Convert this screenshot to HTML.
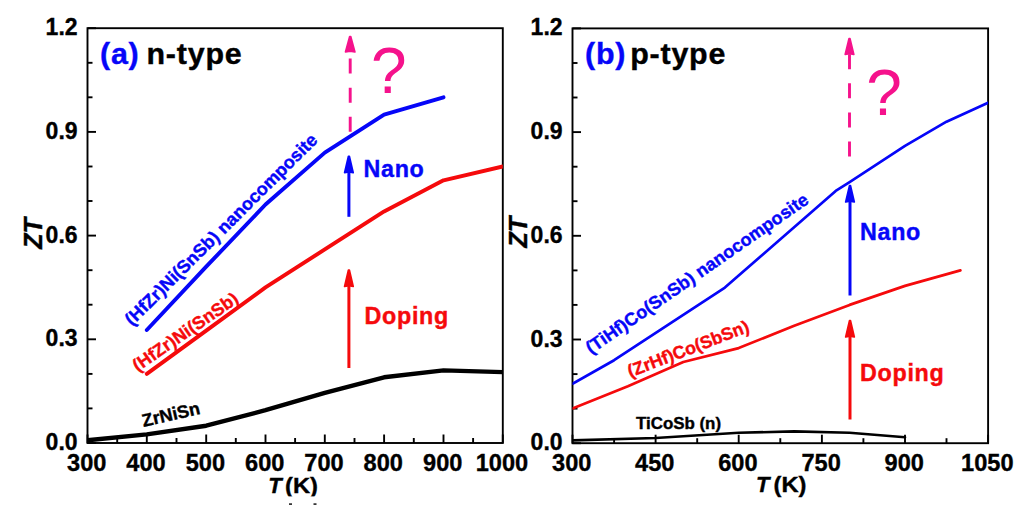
<!DOCTYPE html>
<html><head><meta charset="utf-8"><title>ZT chart</title>
<style>
html,body{margin:0;padding:0;background:#fff;}
body{width:1024px;height:509px;overflow:hidden;}
svg{display:block;}
text{font-family:"Liberation Sans",sans-serif;font-weight:bold;}
.b{stroke-width:0.4px;}
.q{font-weight:normal;}
.tick{font-size:23.6px;fill:#000;stroke:#000;stroke-width:0.35px;}
.ax{stroke:#000;stroke-width:1.9;fill:none;}
</style></head><body>
<svg width="1024" height="509" viewBox="0 0 1024 509">
<rect width="1024" height="509" fill="#fff"/>

<defs><clipPath id="cl"><rect x="87.5" y="28.2" width="415.3" height="414.8"/></clipPath><clipPath id="cr"><rect x="572.5" y="28.4" width="415.6" height="414.8"/></clipPath></defs>
<rect class="ax" x="87.5" y="28.2" width="415.3" height="414.8"/>
<line class="ax" x1="87.5" y1="443.0" x2="96.0" y2="443.0"/>
<text transform="translate(77.6,450.0) scale(1.0,1)" text-anchor="end" class="tick" style="font-size:23px;" >0.0</text>
<line class="ax" x1="87.5" y1="408.4" x2="92.5" y2="408.4"/>
<line class="ax" x1="87.5" y1="373.9" x2="92.5" y2="373.9"/>
<line class="ax" x1="87.5" y1="339.3" x2="96.0" y2="339.3"/>
<text transform="translate(77.6,346.3) scale(1.0,1)" text-anchor="end" class="tick" style="font-size:23px;" >0.3</text>
<line class="ax" x1="87.5" y1="304.7" x2="92.5" y2="304.7"/>
<line class="ax" x1="87.5" y1="270.2" x2="92.5" y2="270.2"/>
<line class="ax" x1="87.5" y1="235.6" x2="96.0" y2="235.6"/>
<text transform="translate(77.6,242.6) scale(1.0,1)" text-anchor="end" class="tick" style="font-size:23px;" >0.6</text>
<line class="ax" x1="87.5" y1="201.0" x2="92.5" y2="201.0"/>
<line class="ax" x1="87.5" y1="166.5" x2="92.5" y2="166.5"/>
<line class="ax" x1="87.5" y1="131.9" x2="96.0" y2="131.9"/>
<text transform="translate(77.6,138.9) scale(1.0,1)" text-anchor="end" class="tick" style="font-size:23px;" >0.9</text>
<line class="ax" x1="87.5" y1="97.3" x2="92.5" y2="97.3"/>
<line class="ax" x1="87.5" y1="62.8" x2="92.5" y2="62.8"/>
<line class="ax" x1="87.5" y1="28.2" x2="96.0" y2="28.2"/>
<text transform="translate(77.6,35.2) scale(1.0,1)" text-anchor="end" class="tick" style="font-size:23px;" >1.2</text>
<line class="ax" x1="87.5" y1="443.0" x2="87.5" y2="434.5"/>
<line class="ax" x1="146.8" y1="443.0" x2="146.8" y2="434.5"/>
<line class="ax" x1="206.2" y1="443.0" x2="206.2" y2="434.5"/>
<line class="ax" x1="265.5" y1="443.0" x2="265.5" y2="434.5"/>
<line class="ax" x1="324.8" y1="443.0" x2="324.8" y2="434.5"/>
<line class="ax" x1="384.1" y1="443.0" x2="384.1" y2="434.5"/>
<line class="ax" x1="443.5" y1="443.0" x2="443.5" y2="434.5"/>
<line class="ax" x1="502.8" y1="443.0" x2="502.8" y2="434.5"/>
<line class="ax" x1="117.2" y1="443.0" x2="117.2" y2="438.0"/>
<line class="ax" x1="176.5" y1="443.0" x2="176.5" y2="438.0"/>
<line class="ax" x1="235.8" y1="443.0" x2="235.8" y2="438.0"/>
<line class="ax" x1="295.1" y1="443.0" x2="295.1" y2="438.0"/>
<line class="ax" x1="354.5" y1="443.0" x2="354.5" y2="438.0"/>
<line class="ax" x1="413.8" y1="443.0" x2="413.8" y2="438.0"/>
<line class="ax" x1="473.1" y1="443.0" x2="473.1" y2="438.0"/>
<text transform="translate(86.7,471.0) scale(1.0,1)" text-anchor="middle" class="tick" style="" >300</text>
<text transform="translate(146.0,471.0) scale(1.0,1)" text-anchor="middle" class="tick" style="" >400</text>
<text transform="translate(205.4,471.0) scale(1.0,1)" text-anchor="middle" class="tick" style="" >500</text>
<text transform="translate(264.7,471.0) scale(1.0,1)" text-anchor="middle" class="tick" style="" >600</text>
<text transform="translate(324.0,471.0) scale(1.0,1)" text-anchor="middle" class="tick" style="" >700</text>
<text transform="translate(383.3,471.0) scale(1.0,1)" text-anchor="middle" class="tick" style="" >800</text>
<text transform="translate(442.7,471.0) scale(1.0,1)" text-anchor="middle" class="tick" style="" >900</text>
<text transform="translate(502.0,471.0) scale(1.0,1)" text-anchor="middle" class="tick" style="" >1000</text>
<polyline clip-path="url(#cl)" points="87.5,440.2 146.8,434.4 206.2,425.7 265.5,410.2 324.8,392.9 384.1,377.3 443.5,370.4 502.8,372.1" fill="none" stroke="#000" stroke-width="4.4" stroke-linejoin="round" stroke-linecap="round"/>
<polyline clip-path="url(#cl)" points="146.8,373.9 206.2,330.7 265.5,287.4 324.8,249.4 384.1,211.4 443.5,180.3 502.8,166.5" fill="none" stroke="#f50a0c" stroke-width="3.9" stroke-linejoin="round" stroke-linecap="round"/>
<polyline clip-path="url(#cl)" points="146.8,330.0 206.2,266.7 265.5,204.5 324.8,152.6 384.1,114.6 443.5,97.3" fill="none" stroke="#0606f8" stroke-width="3.9" stroke-linejoin="round" stroke-linecap="round"/>
<line x1="348.9" y1="368" x2="348.9" y2="284.5" stroke="#f50a0c" stroke-width="3.0"/>
<path d="M348.4,270.2 L349.4,270.2 L353.2,286.5 L348.9,285.7 L344.59999999999997,286.5 Z" fill="#f50a0c" stroke="#f50a0c" stroke-width="1.7" stroke-linejoin="round"/>
<line x1="348.9" y1="216.8" x2="348.9" y2="170.7" stroke="#0606f8" stroke-width="3.0"/>
<path d="M348.4,156.39999999999998 L349.4,156.39999999999998 L353.2,172.7 L348.9,171.89999999999998 L344.59999999999997,172.7 Z" fill="#0606f8" stroke="#0606f8" stroke-width="1.7" stroke-linejoin="round"/>
<line x1="350.2" y1="131.8" x2="350.2" y2="49.9" stroke="#f5128c" stroke-width="2.9" stroke-dasharray="15 14.15"/>
<path d="M349.7,36.6 L350.7,36.6 L354.9,51.9 L350.2,51.1 L345.5,51.9 Z" fill="#f5128c" stroke="#f5128c" stroke-width="1.7" stroke-linejoin="round"/>
<text transform="translate(363.5,176.8) scale(1.0,1)" text-anchor="start" class="" style="font-size:23.3px;fill:#0606f8;stroke:#0606f8;stroke-width:0.4px;" letter-spacing="0.7">Nano</text>
<text transform="translate(364.5,324.0) scale(1.0,1)" text-anchor="start" class="" style="font-size:23.3px;fill:#f50a0c;stroke:#f50a0c;stroke-width:0.4px;" letter-spacing="0.7">Doping</text>
<text transform="translate(371.0,92.7) scale(1.0,1)" text-anchor="start" class="q" style="font-size:64px;fill:#f5128c;" >?</text>
<text transform="translate(100,63.7) scale(1.0,1)" style="font-size:30.4px;letter-spacing:0.8px"><tspan fill="#0606f8" stroke="#0606f8" stroke-width="0.4">(a)</tspan><tspan fill="#000" stroke="#000" stroke-width="0.4" dx="-2.3"> n-type</tspan></text>
<text transform="translate(143.5,427.0) rotate(-13) scale(1.0,1)" text-anchor="start" class="" style="font-size:18px;fill:#000;stroke:#000;stroke-width:0.4px;" >ZrNiSn</text>
<text transform="translate(132.0,326.5) rotate(-44.8) scale(1.0,1)" text-anchor="start" class="" style="font-size:18.0px;fill:#0606f8;stroke:#0606f8;stroke-width:0.4px;" >(HfZr)Ni(SnSb) nanocomposite</text>
<text transform="translate(137.7,372.2) rotate(-34.7) scale(1.0,1)" text-anchor="start" class="" style="font-size:17.9px;fill:#f50a0c;stroke:#f50a0c;stroke-width:0.4px;" >(HfZr)Ni(SnSb)</text>
<text transform="translate(41.5,249) rotate(-90) scale(1.0,1)" style="font-size:25.4px;font-style:italic;stroke:#000;stroke-width:0.4px" fill="#000">ZT</text>
<text transform="translate(268.3,493.3) scale(0.99,1)" style="font-size:22.2px;font-style:italic;stroke:#000;stroke-width:0.4px" fill="#000">T</text>
<text transform="translate(285.1,493.3) scale(1.04,1)" style="font-size:22.8px;stroke:#000;stroke-width:0.4px" fill="#000">(K)</text>
<rect x="280" y="496.4" width="45" height="6.5" fill="#fff"/>
<rect x="289" y="503.3" width="3" height="1.6" fill="#222"/><rect x="313.5" y="503.3" width="3" height="1.6" fill="#222"/>
<rect class="ax" x="572.5" y="28.4" width="415.6" height="414.8"/>
<line class="ax" x1="572.5" y1="443.2" x2="581.0" y2="443.2"/>
<text transform="translate(562.6,450.2) scale(1.0,1)" text-anchor="end" class="tick" style="font-size:23px;" >0.0</text>
<line class="ax" x1="572.5" y1="408.6" x2="577.5" y2="408.6"/>
<line class="ax" x1="572.5" y1="374.1" x2="577.5" y2="374.1"/>
<line class="ax" x1="572.5" y1="339.5" x2="581.0" y2="339.5"/>
<text transform="translate(562.6,346.5) scale(1.0,1)" text-anchor="end" class="tick" style="font-size:23px;" >0.3</text>
<line class="ax" x1="572.5" y1="304.9" x2="577.5" y2="304.9"/>
<line class="ax" x1="572.5" y1="270.4" x2="577.5" y2="270.4"/>
<line class="ax" x1="572.5" y1="235.8" x2="581.0" y2="235.8"/>
<text transform="translate(562.6,242.8) scale(1.0,1)" text-anchor="end" class="tick" style="font-size:23px;" >0.6</text>
<line class="ax" x1="572.5" y1="201.2" x2="577.5" y2="201.2"/>
<line class="ax" x1="572.5" y1="166.7" x2="577.5" y2="166.7"/>
<line class="ax" x1="572.5" y1="132.1" x2="581.0" y2="132.1"/>
<text transform="translate(562.6,139.1) scale(1.0,1)" text-anchor="end" class="tick" style="font-size:23px;" >0.9</text>
<line class="ax" x1="572.5" y1="97.5" x2="577.5" y2="97.5"/>
<line class="ax" x1="572.5" y1="63.0" x2="577.5" y2="63.0"/>
<line class="ax" x1="572.5" y1="28.4" x2="581.0" y2="28.4"/>
<text transform="translate(562.6,35.4) scale(1.0,1)" text-anchor="end" class="tick" style="font-size:23px;" >1.2</text>
<line class="ax" x1="572.5" y1="443.2" x2="572.5" y2="434.7"/>
<line class="ax" x1="655.6" y1="443.2" x2="655.6" y2="434.7"/>
<line class="ax" x1="738.7" y1="443.2" x2="738.7" y2="434.7"/>
<line class="ax" x1="821.9" y1="443.2" x2="821.9" y2="434.7"/>
<line class="ax" x1="905.0" y1="443.2" x2="905.0" y2="434.7"/>
<line class="ax" x1="988.1" y1="443.2" x2="988.1" y2="434.7"/>
<line class="ax" x1="614.1" y1="443.2" x2="614.1" y2="438.2"/>
<line class="ax" x1="697.2" y1="443.2" x2="697.2" y2="438.2"/>
<line class="ax" x1="780.3" y1="443.2" x2="780.3" y2="438.2"/>
<line class="ax" x1="863.4" y1="443.2" x2="863.4" y2="438.2"/>
<line class="ax" x1="946.5" y1="443.2" x2="946.5" y2="438.2"/>
<text transform="translate(571.7,471.0) scale(1.0,1)" text-anchor="middle" class="tick" style="" >300</text>
<text transform="translate(654.8,471.0) scale(1.0,1)" text-anchor="middle" class="tick" style="" >450</text>
<text transform="translate(737.9,471.0) scale(1.0,1)" text-anchor="middle" class="tick" style="" >600</text>
<text transform="translate(821.1,471.0) scale(1.0,1)" text-anchor="middle" class="tick" style="" >750</text>
<text transform="translate(904.2,471.0) scale(1.0,1)" text-anchor="middle" class="tick" style="" >900</text>
<text transform="translate(987.3,471.0) scale(1.0,1)" text-anchor="middle" class="tick" style="" >1050</text>
<polyline clip-path="url(#cr)" points="572.5,440.4 655.6,438.0 738.7,432.8 794.2,431.4 849.6,432.8 905.0,437.3" fill="none" stroke="#000" stroke-width="2.6" stroke-linejoin="round" stroke-linecap="round"/>
<polyline clip-path="url(#cr)" points="572.5,408.6 627.9,386.2 683.3,362.0 738.7,348.1 794.2,325.7 849.6,304.9 905.0,285.9 960.4,270.4" fill="none" stroke="#f50a0c" stroke-width="2.7" stroke-linejoin="round" stroke-linecap="round"/>
<polyline clip-path="url(#cr)" points="572.5,383.7 614.1,360.2 669.5,323.9 724.9,287.6 835.7,190.9 849.6,182.2 905.0,145.9 946.5,121.7 988.1,102.7" fill="none" stroke="#0606f8" stroke-width="2.7" stroke-linejoin="round" stroke-linecap="round"/>
<line x1="850" y1="419.5" x2="850" y2="335.0" stroke="#f50a0c" stroke-width="3.0"/>
<path d="M849.5,320.7 L850.5,320.7 L854.3,337.0 L850,336.2 L845.7,337.0 Z" fill="#f50a0c" stroke="#f50a0c" stroke-width="1.7" stroke-linejoin="round"/>
<line x1="850" y1="295.5" x2="850" y2="200.0" stroke="#0606f8" stroke-width="3.0"/>
<path d="M849.5,185.7 L850.5,185.7 L854.3,202.0 L850,201.2 L845.7,202.0 Z" fill="#0606f8" stroke="#0606f8" stroke-width="1.7" stroke-linejoin="round"/>
<line x1="849.5" y1="156.5" x2="849.5" y2="52.4" stroke="#f5128c" stroke-width="2.9" stroke-dasharray="15 14.1"/>
<path d="M849.0,38.6 L850.0,38.6 L853.8,54.4 L849.5,53.6 L845.2,54.4 Z" fill="#f5128c" stroke="#f5128c" stroke-width="1.7" stroke-linejoin="round"/>
<text transform="translate(860.0,240.0) scale(1.0,1)" text-anchor="start" class="" style="font-size:23.3px;fill:#0606f8;stroke:#0606f8;stroke-width:0.4px;" letter-spacing="0.7">Nano</text>
<text transform="translate(860.0,381.0) scale(1.0,1)" text-anchor="start" class="" style="font-size:23.3px;fill:#f50a0c;stroke:#f50a0c;stroke-width:0.4px;" letter-spacing="0.7">Doping</text>
<text transform="translate(866.3,114.5) scale(1.0,1)" text-anchor="start" class="q" style="font-size:64px;fill:#f5128c;" >?</text>
<text transform="translate(585,63.7) scale(1.0,1)" style="font-size:30.4px;letter-spacing:0.8px"><tspan fill="#0606f8" stroke="#0606f8" stroke-width="0.4">(b)</tspan><tspan fill="#000" stroke="#000" stroke-width="0.4" dx="4">p-type</tspan></text>
<text transform="translate(636.0,429.0) scale(1.0,1)" text-anchor="start" class="" style="font-size:16.9px;fill:#000;stroke:#000;stroke-width:0.4px;" >TiCoSb (n)</text>
<text transform="translate(590.9,354.6) rotate(-34.8) scale(1.0,1)" text-anchor="start" class="" style="font-size:18px;fill:#0606f8;stroke:#0606f8;stroke-width:0.4px;" >(TiHf)Co(SnSb) nanocomposite</text>
<text transform="translate(630.3,377.5) rotate(-21) scale(1.0,1)" text-anchor="start" class="" style="font-size:17.7px;fill:#f50a0c;stroke:#f50a0c;stroke-width:0.4px;" >(ZrHf)Co(SbSn)</text>
<text transform="translate(527.3,247.8) rotate(-90) scale(1.0,1)" style="font-size:25.4px;font-style:italic;stroke:#000;stroke-width:0.4px" fill="#000">ZT</text>
<text transform="translate(756.1,492.3) scale(0.99,1)" style="font-size:22.2px;font-style:italic;stroke:#000;stroke-width:0.4px" fill="#000">T</text>
<text transform="translate(773.5,492.3) scale(1.04,1)" style="font-size:22.8px;stroke:#000;stroke-width:0.4px" fill="#000">(K)</text>
</svg></body></html>
